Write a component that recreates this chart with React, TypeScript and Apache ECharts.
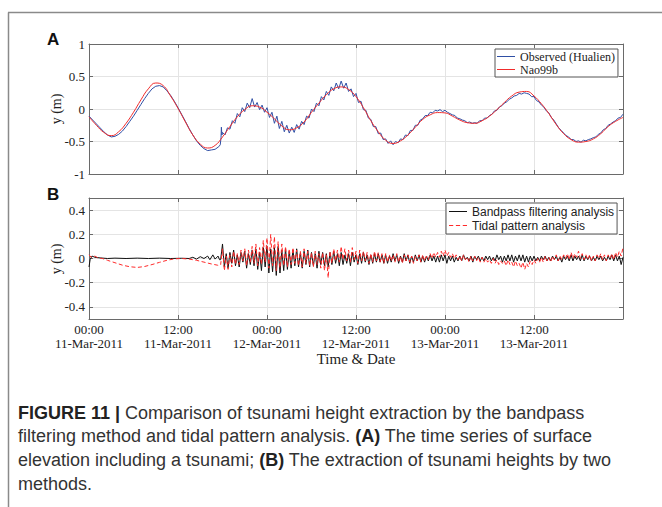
import React, { useEffect, useRef } from 'react';
import * as echarts from 'echarts';

// ---------- data (hours since 00:00 11-Mar-2011) ----------
const xTickLabels = [
  '00:00\n11-Mar-2011',
  '12:00\n11-Mar-2011',
  '00:00\n12-Mar-2011',
  '12:00\n12-Mar-2011',
  '00:00\n13-Mar-2011',
  '12:00\n13-Mar-2011',
];
const yTicksB = [-0.4, -0.2, 0, 0.2, 0.4];

// Nao99b predicted tide, hourly from 00:00 11-Mar
const nao99b = [
  -0.12, -0.25, -0.36, -0.41, -0.35, -0.22, -0.05, 0.14, 0.31, 0.40,
  0.36, 0.20, 0.01, -0.20, -0.40, -0.54, -0.60, -0.56, -0.43, -0.27,
  -0.12, -0.01, 0.05, 0.03, -0.05, -0.15, -0.26, -0.32, -0.29, -0.20,
  -0.05, 0.09, 0.22, 0.31, 0.34, 0.30, 0.19, 0.02, -0.18, -0.35,
  -0.48, -0.53, -0.49, -0.40, -0.28, -0.16, -0.09, -0.055, -0.06, -0.11,
  -0.17, -0.21, -0.22, -0.18, -0.11, -0.01, 0.10, 0.20, 0.26, 0.27,
  0.20, 0.08, -0.07, -0.24, -0.38, -0.47, -0.51, -0.50, -0.46, -0.38,
  -0.27, -0.19, -0.13,
];

// Observed (Hualien) before the tsunami arrival: [hour, value]
const observedEarly: [number, number][] = [
  [0, -0.11], [0.5, -0.17], [1, -0.23], [1.5, -0.29], [2, -0.35], [2.5, -0.4],
  [3, -0.43], [3.5, -0.42], [4, -0.39], [4.5, -0.34], [5, -0.27], [5.5, -0.19],
  [6, -0.11], [6.5, -0.02], [7, 0.07], [7.5, 0.16], [8, 0.24], [8.5, 0.31],
  [9, 0.35], [9.5, 0.36], [10, 0.34], [10.5, 0.28], [11, 0.21], [11.5, 0.12],
  [12, 0.02], [12.5, -0.085], [13, -0.19], [13.5, -0.3], [14, -0.4], [14.5, -0.49],
  [15, -0.56], [15.5, -0.61], [16, -0.64], [16.5, -0.63], [17, -0.62], [17.5, -0.58],
  [17.7, -0.55], [17.8, -0.44], [17.85, -0.28], [17.92, -0.4],
];
// Observed (Hualien), every 20 min from 18:00 11-Mar
const observedLate = [
  -0.36, -0.40, -0.29, -0.31, -0.18, -0.22, -0.07, -0.12, 0.02,
  -0.04, 0.09, 0.02, 0.16, 0.03, 0.10, -0.01, 0.06, -0.05,
  0.02, -0.13, -0.05, -0.22, -0.11, -0.30, -0.19, -0.35, -0.25,
  -0.37, -0.28, -0.36, -0.24, -0.31, -0.19, -0.24, -0.11, -0.14,
  0.00, -0.04, 0.09, 0.05, 0.19, 0.14, 0.27, 0.21, 0.34,
  0.28, 0.40, 0.31, 0.43, 0.32, 0.40, 0.27, 0.31, 0.19,
  0.24, 0.10, 0.12, -0.01, -0.02, -0.14, -0.16, -0.27, -0.27,
  -0.38, -0.37, -0.47, -0.46, -0.53, -0.49, -0.55, -0.50, -0.52,
  -0.46, -0.47, -0.40, -0.41, -0.33, -0.33, -0.25, -0.25, -0.17,
  -0.15, -0.10, -0.10, -0.05, -0.06, -0.02, -0.03, -0.01, -0.04,
  -0.02, -0.05, -0.07, -0.09, -0.10, -0.14, -0.15, -0.17, -0.18,
  -0.21, -0.20, -0.22, -0.21, -0.22, -0.18, -0.18, -0.14, -0.14,
  -0.10, -0.08, -0.03, -0.02, 0.03, 0.05, 0.09, 0.11, 0.15,
  0.17, 0.20, 0.21, 0.24, 0.23, 0.25, 0.24, 0.23, 0.19,
  0.19, 0.13, 0.11, 0.06, 0.03, -0.03, -0.06, -0.13, -0.17,
  -0.23, -0.29, -0.33, -0.37, -0.41, -0.43, -0.47, -0.47, -0.50,
  -0.49, -0.51, -0.48, -0.49, -0.47, -0.46, -0.44, -0.43, -0.39,
  -0.37, -0.32, -0.30, -0.25, -0.23, -0.20, -0.18, -0.14, -0.13,
  -0.08,
];

// Bandpass filtering analysis before arrival: [hour, value]
const bandpassEarly: [number, number][] = [
  [0, -0.07], [0.15, -0.01], [0.4, 0.02], [0.8, 0.01], [1.5, 0.005], [2.5, 0],
  [3.5, 0.003], [5, 0], [6.5, 0.003], [8, 0], [9.5, 0.003], [11, 0],
  [12.5, 0.002], [13.5, 0], [14, 0.01], [14.5, -0.005], [15, 0.015], [15.5, 0],
  [16, 0.02], [16.3, -0.01], [16.7, 0.03], [17, -0.005], [17.4, 0.02], [17.6, -0.01],
];
// Bandpass filtering analysis, every 15 min from 17:45 11-Mar
const bandpassLate = [
  -0.01,
  0.12, -0.07, 0.04, -0.08, 0.05, -0.04, 0.07, -0.06,
  0.03, -0.07, 0.05, -0.03, 0.06, -0.08, 0.04, -0.05,
  0.07, -0.06, 0.08, -0.09, 0.05, -0.1, 0.09, -0.07,
  0.1, -0.12, 0.08, -0.11, 0.09, -0.14, 0.1, -0.12,
  0.07, -0.1, 0.08, -0.09, 0.06, -0.08, 0.07, -0.06,
  0.08, -0.07, 0.05, -0.08, 0.06, -0.05, 0.07, -0.07,
  0.05, -0.06, 0.04, -0.08, 0.06, -0.05, 0.05, -0.06,
  0.04, -0.07, 0.05, -0.05, 0.06, -0.04, 0.04, -0.06,
  0.05, -0.05, 0.03, -0.04, 0.04, -0.06, 0.05, -0.03,
  0.03, -0.05, 0.04, -0.04, 0.05, -0.03, 0.03, -0.05,
  0.03, -0.04, 0.04, -0.03, 0.04, -0.03, 0.03, -0.04,
  0.03, -0.04, 0.02, -0.03, 0.04, -0.02, 0.03, -0.04,
  0.02, -0.03, 0.04, -0.02, 0.03, -0.04, 0.02, -0.03,
  0.03, -0.02, 0.03, -0.03, 0.02, -0.03, 0.02, -0.02,
  0.03, -0.02, 0.02, -0.03, 0.02, -0.03, 0.03, -0.02,
  0.03, -0.04, 0.02, -0.02, 0.02, -0.03, 0.01, -0.02,
  0.02, -0.02, 0.03, -0.01, 0.01, -0.02, 0.02, -0.03,
  0.02, -0.01, 0.02, -0.02, 0.01, -0.02, 0.02, -0.01,
  0.02, -0.02, 0.01, -0.02, 0.03, -0.01, 0.02, -0.03,
  0.02, -0.02, 0.03, -0.02, 0.03, -0.03, 0.02, -0.02,
  0.03, -0.02, 0.03, -0.03, 0.02, -0.03, 0.02, -0.02,
  0.02, -0.02, 0.01, -0.02, 0.02, -0.01, 0.02, -0.02,
  0.01, -0.02, 0.02, -0.01, 0.02, -0.02, 0.01, -0.03,
  0.02, -0.01, 0.02, -0.02, 0.03, -0.02, 0.02, -0.01,
  0.02, -0.02, 0.03, -0.02, 0.02, -0.01, 0.02, -0.02,
  0.01, -0.02, 0.02, -0.01, 0.02, -0.02, 0.01, -0.02,
  0.02, -0.01, 0.03, -0.02, 0.03, -0.02, 0.02, -0.05,
  0.01,
];

// Tidal pattern analysis before arrival: [hour, value]
const tidalEarly: [number, number][] = [
  [0, 0.03], [0.3, 0.01], [0.8, 0.02], [1.2, 0.005], [1.8, 0], [2.5, -0.015],
  [3.5, -0.035], [4.5, -0.055], [5.5, -0.068], [6.5, -0.074], [7.5, -0.066], [8.5, -0.05],
  [9.5, -0.032], [10.5, -0.015], [11.5, -0.003], [12.5, 0], [13.5, -0.005], [14.5, -0.015],
  [15.5, -0.03], [16.5, -0.045], [17.3, -0.055], [17.6, -0.06],
];
// Tidal pattern analysis, every 15 min from 17:45 11-Mar
const tidalLate = [
  -0.05,
  0.08, -0.1, 0.02, -0.09, 0.03, -0.07, 0.06, -0.05,
  0.04, -0.05, 0.07, -0.02, 0.08, -0.06, 0.07, -0.03,
  0.1, -0.04, 0.12, -0.06, 0.09, -0.05, 0.15, -0.03,
  0.17, -0.08, 0.2, -0.06, 0.18, -0.1, 0.14, -0.08,
  0.12, -0.06, 0.1, -0.07, 0.08, -0.05, 0.09, -0.04,
  0.07, -0.06, 0.06, -0.07, 0.08, -0.04, 0.06, -0.06,
  0.05, -0.07, 0.06, -0.05, 0.04, -0.08, 0.05, -0.1,
  0.03, -0.16, 0.06, -0.04, 0.08, -0.02, 0.07, -0.03,
  0.1, -0.01, 0.08, -0.02, 0.07, -0.03, 0.09, -0.01,
  0.06, -0.04, 0.07, -0.02, 0.06, -0.02, 0.05, -0.04,
  0.04, -0.03, 0.06, -0.02, 0.05, -0.03, 0.04, -0.04,
  0.04, -0.03, 0.03, -0.02, 0.03, -0.03, 0.04, -0.03,
  0.02, -0.04, 0.03, -0.02, 0.03, -0.03, 0.02, -0.04,
  0.02, -0.02, 0.03, -0.03, 0.03, -0.02, 0.02, -0.01,
  0.04, 0.0, 0.05, 0.01, 0.05, 0.01, 0.06, 0.02,
  0.07, 0.02, 0.05, 0.01, 0.04, 0.0, 0.03, -0.01,
  0.02, -0.02, 0.03, -0.01, 0.01, -0.03, 0.02, -0.02,
  0.02, -0.02, 0.01, -0.03, 0.01, -0.03, 0.0, -0.03,
  -0.01, -0.04, 0.0, -0.04, -0.01, -0.05, -0.02, -0.04,
  -0.02, -0.06, -0.01, -0.05, -0.03, -0.07, -0.02, -0.06,
  -0.04, -0.08, -0.03, -0.09, -0.04, -0.07, -0.02, -0.05,
  -0.01, -0.04, 0.0, -0.03, 0.01, -0.03, 0.02, -0.02,
  0.01, -0.03, 0.02, -0.01, 0.03, -0.02, 0.02, -0.01,
  0.03, 0.0, 0.04, -0.01, 0.05, 0.0, 0.04, 0.01,
  0.06, 0.0, 0.04, -0.01, 0.03, -0.01, 0.03, -0.02,
  0.02, -0.02, 0.03, 0.0, 0.04, -0.01, 0.03, -0.02,
  0.03, 0.0, 0.04, -0.01, 0.05, 0.01, 0.06, 0.02,
  0.09,
];

const captionLines = [
  '{b|FIGURE 11 |} Comparison of tsunami height extraction by the bandpass',
  'filtering method and tidal pattern analysis. {b|(A)} The time series of surface',
  'elevation including a tsunami; {b|(B)} The extraction of tsunami heights by two',
  'methods.',
];

// ---------- styling ----------
const SERIF = '"Liberation Serif", "Times New Roman", serif';
const SANS = '"Liberation Sans", Arial, Helvetica, sans-serif';
const BLUE = '#2f4fa5';
const RED = '#f02c2c';
const RED2 = '#ff2a2a';
const AXIS = '#6a6a6a';
const GRIDC = '#e4e4e4';
const TXT = '#222';
const SOLID_ICON = 'path://M0,0H18V1H0Z';
const DASH_ICON = 'path://M0,0H4V1H0Z M6.5,0H10.5V1H6.5Z M13,0H17V1H13Z';

function buildOption() {
  const naoData = nao99b.map((v, i) => [i, v]);
  const obsData = [...observedEarly, ...observedLate.map((v, i) => [18 + i / 3, v])];
  const bpData = [...bandpassEarly, ...bandpassLate.map((v, i) => [17.75 + i * 0.25, v])];
  const tdData = [...tidalEarly, ...tidalLate.map((v, i) => [17.75 + i * 0.25, v])];

  const xBase = (gridIndex: number, position: 'top' | 'bottom', main: boolean, labels: boolean) => ({
    type: 'value',
    gridIndex,
    position,
    min: 0,
    max: 72,
    interval: 12,
    axisLine: { show: true, onZero: false, lineStyle: { color: AXIS, width: 1 } },
    axisTick: { show: true, inside: true, length: 4, lineStyle: { color: AXIS } },
    splitLine: { show: main, lineStyle: { color: GRIDC, width: 1 } },
    axisLabel: labels
      ? {
          show: true,
          margin: 3,
          fontFamily: SERIF,
          fontSize: 13,
          lineHeight: 14.5,
          color: TXT,
          formatter: (v: number) => xTickLabels[Math.round(v / 12)] ?? '',
        }
      : { show: false },
  });

  const yA = (position: 'left' | 'right', main: boolean) => ({
    type: 'value',
    gridIndex: 0,
    position,
    min: -1,
    max: 1,
    interval: 0.5,
    axisLine: { show: true, onZero: false, lineStyle: { color: AXIS, width: 1 } },
    axisTick: { show: true, inside: true, length: 4, lineStyle: { color: AXIS } },
    splitLine: { show: main, lineStyle: { color: GRIDC, width: 1 } },
    axisLabel: main
      ? { show: true, margin: 4, fontFamily: SERIF, fontSize: 13, color: TXT }
      : { show: false },
  });

  const yB = (position: 'left' | 'right', main: boolean) => ({
    type: 'value',
    gridIndex: 1,
    position,
    min: -0.5,
    max: 0.5,
    axisLine: { show: true, onZero: false, lineStyle: { color: AXIS, width: 1 } },
    axisTick: { show: true, inside: true, length: 4, customValues: yTicksB, lineStyle: { color: AXIS } },
    splitLine: { show: main, lineStyle: { color: GRIDC, width: 1 } },
    axisLabel: main
      ? {
          show: true,
          margin: 4,
          customValues: yTicksB,
          fontFamily: SERIF,
          fontSize: 13,
          color: TXT,
          formatter: (v: number) => String(Math.round(v * 10) / 10),
        }
      : { show: false },
  });

  const xB = xBase(1, 'bottom', true, true) as any;
  xB.name = 'Time & Date';
  xB.nameLocation = 'middle';
  xB.nameGap = 27;
  xB.nameTextStyle = { fontFamily: SERIF, fontSize: 15, color: TXT };

  const legendCommon = {
    orient: 'vertical',
    itemGap: 0,
    itemWidth: 18,
    itemHeight: 1.2,
    borderColor: '#555',
    borderWidth: 1,
    borderRadius: 0,
    backgroundColor: '#fff',
    selectedMode: false,
  };

  return {
    animation: false,
    backgroundColor: '#fff',
    grid: [
      { left: 89, right: 39, top: 44, height: 130 },
      { left: 89, right: 39, top: 198, height: 121 },
    ],
    xAxis: [xBase(0, 'bottom', true, false), xBase(0, 'top', false, false), xB, xBase(1, 'top', false, false)],
    yAxis: [yA('left', true), yA('right', false), yB('left', true), yB('right', false)],
    legend: [
      {
        ...legendCommon,
        data: [
          { name: 'Observed (Hualien)', icon: SOLID_ICON },
          { name: 'Nao99b', icon: SOLID_ICON },
        ],
        left: 495,
        top: 49,
        padding: [1, 3, 1, 2],
        textStyle: { fontFamily: SERIF, fontSize: 12, lineHeight: 13, color: TXT },
      },
      {
        ...legendCommon,
        data: [
          { name: 'Bandpass filtering analysis', icon: SOLID_ICON },
          { name: 'Tidal pattern analysis', icon: DASH_ICON },
        ],
        left: 446,
        top: 203,
        padding: [2, 3, 2, 3],
        itemGap: 1,
        textStyle: { fontFamily: SANS, fontSize: 12, lineHeight: 13, color: TXT },
      },
    ],
    series: [
      {
        type: 'line',
        name: 'Observed (Hualien)',
        xAxisIndex: 0,
        yAxisIndex: 0,
        data: obsData,
        symbol: 'none',
        lineStyle: { color: BLUE, width: 1 },
        itemStyle: { color: BLUE },
      },
      {
        type: 'line',
        name: 'Nao99b',
        xAxisIndex: 0,
        yAxisIndex: 0,
        data: naoData,
        smooth: true,
        symbol: 'none',
        lineStyle: { color: RED, width: 1 },
        itemStyle: { color: RED },
      },
      {
        type: 'line',
        name: 'Bandpass filtering analysis',
        xAxisIndex: 2,
        yAxisIndex: 2,
        data: bpData,
        symbol: 'none',
        lineStyle: { color: '#111', width: 1 },
        itemStyle: { color: '#111' },
      },
      {
        type: 'line',
        name: 'Tidal pattern analysis',
        xAxisIndex: 2,
        yAxisIndex: 2,
        data: tdData,
        symbol: 'none',
        lineStyle: { color: RED2, width: 1, type: [4, 2.5] },
        itemStyle: { color: RED2 },
      },
    ],
    graphic: [
      { type: 'line', shape: { x1: 8, y1: 12.5, x2: 662, y2: 12.5 }, style: { stroke: '#8a8a8a', lineWidth: 1.5 } },
      { type: 'line', shape: { x1: 8.5, y1: 12.5, x2: 8.5, y2: 507 }, style: { stroke: '#8a8a8a', lineWidth: 1.5 } },
      {
        type: 'text',
        x: 47,
        y: 39,
        style: { text: 'A', fontFamily: SANS, fontWeight: 'bold', fontSize: 17, fill: '#111', verticalAlign: 'middle' },
      },
      {
        type: 'text',
        x: 47,
        y: 194,
        style: { text: 'B', fontFamily: SANS, fontWeight: 'bold', fontSize: 17, fill: '#111', verticalAlign: 'middle' },
      },
      {
        type: 'text',
        x: 56,
        y: 109,
        rotation: Math.PI / 2,
        style: { text: 'y (m)', fontFamily: SERIF, fontSize: 14, fill: TXT, align: 'center', verticalAlign: 'middle' },
      },
      {
        type: 'text',
        x: 56,
        y: 259,
        rotation: Math.PI / 2,
        style: { text: 'y (m)', fontFamily: SERIF, fontSize: 14, fill: TXT, align: 'center', verticalAlign: 'middle' },
      },
      ...captionLines.map((t, i) => ({
        type: 'text',
        x: 18,
        y: 412.5 + i * 23.7,
        style: {
          text: t,
          fontFamily: SANS,
          fontSize: 18,
          fill: '#333',
          verticalAlign: 'middle',
          rich: { b: { fontFamily: SANS, fontSize: 18, fontWeight: 'bold', fill: '#222' } },
        },
      })),
    ],
  };
}

export default function App() {
  const ref = useRef<HTMLDivElement>(null);
  useEffect(() => {
    if (!ref.current) return;
    const chart = echarts.init(ref.current, undefined, { renderer: 'svg' });
    chart.setOption(buildOption() as any);
    return () => chart.dispose();
  }, []);
  return (
    <div
      ref={ref}
      style={{ position: 'absolute', left: 0, top: 0, width: 662, height: 507, background: '#fff' }}
    />
  );
}
